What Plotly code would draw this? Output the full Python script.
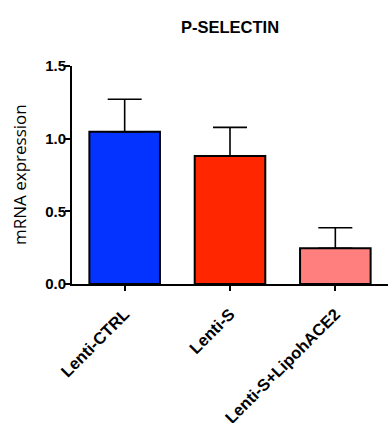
import plotly.graph_objects as go

categories = ["Lenti-CTRL", "Lenti-S", "Lenti-S+LipohACE2"]
values = [1.048, 0.881, 0.246]
errors = [0.223, 0.197, 0.141]
colors = ["#0433FF", "#FF2600", "#FF7F7F"]

fig = go.Figure()
fig.add_trace(go.Bar(
    x=categories, y=values,
    marker=dict(color=colors, line=dict(color="black", width=2)),
    width=0.67,
    error_y=dict(type="data", array=errors, arrayminus=[0]*len(errors), symmetric=False,
                 color="black", thickness=1.6, width=17),
))

fig.update_layout(
    width=392, height=423,
    margin=dict(l=72, r=4, t=66, b=139),
    paper_bgcolor="white", plot_bgcolor="white",
    showlegend=False,
    font=dict(family="Liberation Sans, Arial", color="black"),
    title=dict(text="<b>P-SELECTIN</b>", x=(72+388)/2/392, xanchor="center",
               y=1-27/423, yanchor="middle", yref="container",
               font=dict(size=16.5, color="black")),
    xaxis=dict(range=[-0.5, 2.5], showline=True, linecolor="black", linewidth=2,
               ticks="outside", ticklen=5, tickwidth=1.5, tickcolor="black",
               tickangle=-45, tickfont=dict(size=16.5, family="Liberation Sans, Arial"),
               ticklabelstandoff=7, automargin=False,
               showgrid=False, zeroline=False,
               tickprefix="<b>", ticksuffix="</b>"),
    yaxis=dict(range=[0, 1.5], tickvals=[0, 0.5, 1.0, 1.5],
               ticktext=["<b>0.0</b>", "<b>0.5</b>", "<b>1.0</b>", "<b>1.5</b>"],
               showline=True, linecolor="black", linewidth=2,
               ticks="outside", ticklen=5, tickwidth=1.5, tickcolor="black",
               ticklabelstandoff=-4, automargin=False,
               tickfont=dict(size=15), showgrid=False, zeroline=False),
    annotations=[dict(text="mRNA expression", textangle=-90, xref="paper", yref="paper",
                      x=(19-72)/316, y=0.5, xanchor="center", yanchor="middle",
                      showarrow=False, font=dict(size=17, family="Open Sans"))],
)

fig.write_html("out.html")
